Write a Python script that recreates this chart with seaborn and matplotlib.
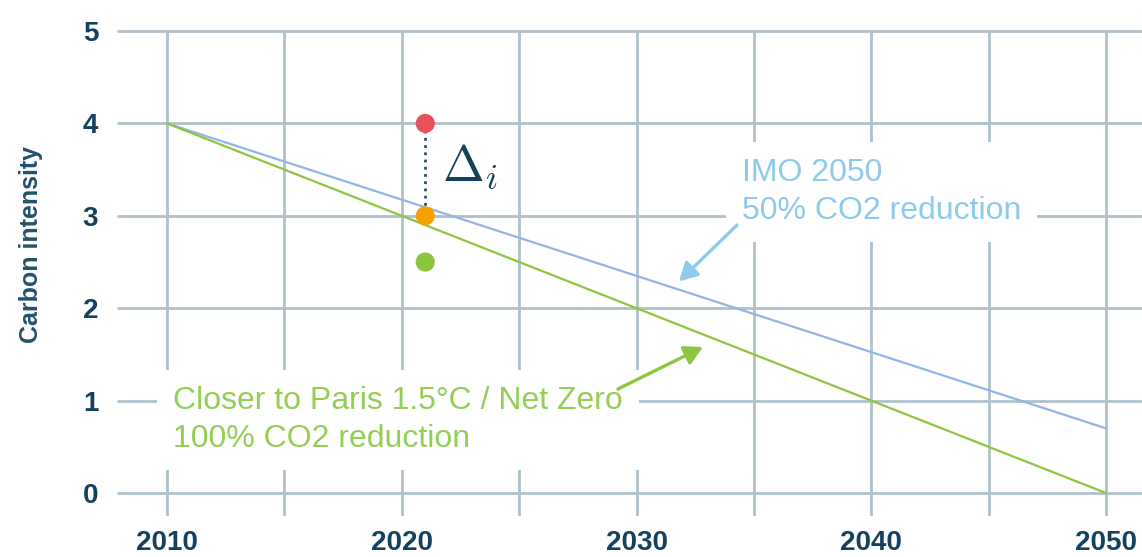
import matplotlib
matplotlib.use("Agg")
import matplotlib.pyplot as plt
import seaborn as sns
import pandas as pd

# Pathways (start and end of each straight trajectory)
years = [2010, 2050]
imo_2050 = [4.0, 0.7]
paris_net_zero = [4.0, 0.0]

# Example vessel intensities in 2021
point_year = 2021
point_values = [4.0, 3.0, 2.5]
point_names = ["actual", "target", "better"]

x_ticks = [2010, 2020, 2030, 2040, 2050]
y_ticks = [0, 1, 2, 3, 4, 5]

BLUE_LINE = "#93b5e4"
BLUE_TEXT = "#8ecaec"
GREEN = "#8dc63f"
GREEN_TEXT = "#93cf55"
NAVY = "#15405e"
GRID = "#b0c1ca"

sns.set_theme(style="white")
plt.rcParams["mathtext.fontset"] = "cm"

lines = pd.DataFrame({
    "year": years * 2,
    "intensity": imo_2050 + paris_net_zero,
    "pathway": ["IMO 2050"] * 2 + ["Paris"] * 2,
})
points = pd.DataFrame({
    "year": [point_year] * 3,
    "intensity": point_values,
    "kind": point_names,
})

fig = plt.figure(figsize=(11.42, 5.57), dpi=100)
ax = fig.add_axes([0.1031, 0.0734, 0.8962, 0.8709])

sns.lineplot(data=lines, x="year", y="intensity", hue="pathway",
             palette={"IMO 2050": BLUE_LINE, "Paris": GREEN},
             linewidth=1.6, legend=False, ax=ax, zorder=3)

# Gap between actual and target intensity
ax.plot([point_year, point_year], [point_values[0], point_values[1]],
        linestyle=(0, (1, 1.6)), color="#2d5266", linewidth=2.0, zorder=4)

sns.scatterplot(data=points, x="year", y="intensity", hue="kind",
                palette={"actual": "#e9505a", "target": "#f5a300", "better": "#8cc43c"},
                s=190, edgecolor="none", legend=False, ax=ax, zorder=5)

ax.text(2021.7, 3.377, r"$\mathbf{\Delta}_i$", fontsize=36, color=NAVY,
        ha="left", va="baseline", zorder=6)

# Pathway labels with white boxes over the grid
ax.text(2034.49, 3.26, "IMO 2050\n50% CO2 reduction", fontsize=23,
        family="Liberation Sans", color=BLUE_TEXT, ha="left", va="center",
        linespacing=1.35, zorder=6,
        bbox=dict(boxstyle="square,pad=0.5", facecolor="white", edgecolor="none"))
ax.text(2010.26, 0.79, "Closer to Paris 1.5°C / Net Zero\n100% CO2 reduction",
        fontsize=23, family="Liberation Sans", color=GREEN_TEXT, ha="left",
        va="center", linespacing=1.35, zorder=6,
        bbox=dict(boxstyle="square,pad=0.5", facecolor="white", edgecolor="none"))

ax.annotate("", xy=(2031.81, 2.29), xytext=(2034.28, 2.90),
            arrowprops=dict(arrowstyle="-|>,head_length=0.55,head_width=0.3",
                            mutation_scale=20, color=BLUE_TEXT, lw=2.4,
                            shrinkA=0, shrinkB=0), zorder=7)
ax.annotate("", xy=(2032.83, 1.58), xytext=(2029.21, 1.126),
            arrowprops=dict(arrowstyle="-|>,head_length=0.55,head_width=0.3",
                            mutation_scale=20, color=GREEN, lw=2.4,
                            shrinkA=0, shrinkB=0), zorder=7)

ax.set_xlim(2007.9, 2051.5)
ax.set_ylim(-0.25, 5.0)
ax.set_xticks(x_ticks)
ax.set_yticks(y_ticks)
ax.set_xticks(list(range(2015, 2050, 10)), minor=True)
ax.grid(True, which="both", color=GRID, linewidth=2.0)
ax.set_axisbelow(True)
for gl in ax.get_ygridlines():
    gl.set_clip_on(False)
for s in ax.spines.values():
    s.set_visible(False)

ax.tick_params(axis="both", which="both", length=0)
ax.tick_params(axis="x", pad=10)
ax.tick_params(axis="y", pad=14)
for lab in ax.get_xticklabels() + ax.get_yticklabels():
    lab.set_fontfamily("Liberation Sans")
    lab.set_fontweight("bold")
    lab.set_fontsize(20)
    lab.set_color(NAVY)

ax.set_xlabel("")
ax.set_ylabel("Carbon intensity", fontsize=18, fontweight="bold",
              family="Liberation Sans", color="#23506c")
ax.yaxis.set_label_coords(-0.073, 0.559)

fig.savefig("out.png", dpi=100, facecolor="white")
